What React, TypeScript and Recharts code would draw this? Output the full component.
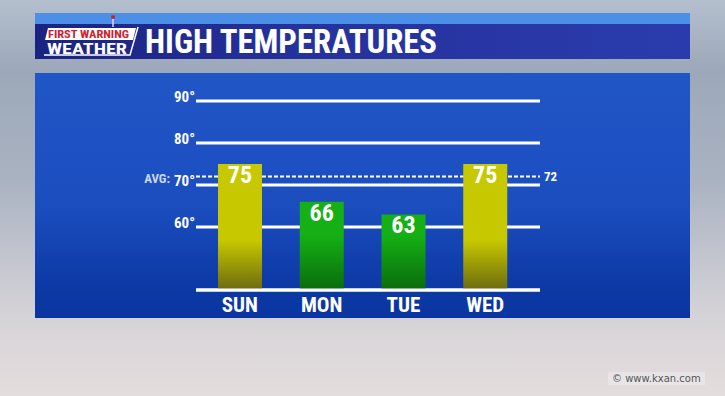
import React from "react"
import { Bar, BarChart, CartesianGrid, Cell, LabelList, ReferenceLine, XAxis, YAxis } from "recharts"

const days = ["SUN", "MON", "TUE", "WED"]
const highs = [75, 66, 63, 75]
const yTicks = [60, 70, 80, 90]
const avgTemp = 72
const yDomain = [45, 90]

const data = days.map((day, i) => ({ day, high: highs[i] }))

const FONT = "'Roboto Condensed', 'DejaVu Sans Condensed', 'Liberation Sans Narrow', Roboto, sans-serif"
const chartMargin = { top: 101, right: 185, bottom: 76, left: 136 }

const YTick = (props: any) => {
  const { x, y, payload } = props
  return (
    <g>
      {payload.value === 70 && (
        <text x={x - 25} y={y - 2} textAnchor="end" fill="#c9d6f2" fontSize={13} fontWeight="bold" fontFamily={FONT}>
          AVG:
        </text>
      )}
      <text x={x} y={y + 1} textAnchor="end" fill="#fff" fontSize={15} fontWeight="bold" fontFamily={FONT}>
        {payload.value}°
      </text>
    </g>
  )
}

const XTick = (props: any) => {
  const { x, y, payload } = props
  return (
    <text x={x} y={y + 22} textAnchor="middle" fill="#fff" fontSize={21} fontWeight="bold" fontFamily={FONT}>
      {payload.value}
    </text>
  )
}

// shared axes so both layers use the same scales
const axes = (front: boolean) => [
  <XAxis
    key="x"
    dataKey="day"
    height={30}
    axisLine={front ? { stroke: "#ffffff", strokeWidth: 3 } : false}
    tickLine={false}
    tickSize={0}
    tickMargin={0}
    padding={{ left: 3, right: 14 }}
    tick={front ? <XTick /> : false}
  />,
  <YAxis
    key="y"
    domain={yDomain}
    ticks={yTicks}
    interval={0}
    width={60}
    axisLine={false}
    tickLine={false}
    tickSize={0}
    tickMargin={1}
    tick={front ? false : <YTick />}
  />,
]

export default function App() {
  return (
    <div
      style={{
        position: "fixed",
        left: 0,
        top: 0,
        width: 725,
        height: 396,
        overflow: "hidden",
        background: "linear-gradient(180deg, #b4bfce 0%, #9ca8b9 18%, #a9b2c1 45%, #d6d3d8 80%, #e4dddd 100%)",
      }}
    >
      <svg width={0} height={0} style={{ position: "absolute" }}>
        <defs>
          <linearGradient id="yellowBar" gradientUnits="userSpaceOnUse" x1="0" y1="240" x2="0" y2="290">
            <stop offset="0%" stopColor="#c8c800" />
            <stop offset="100%" stopColor="#6c6a10" />
          </linearGradient>
          <linearGradient id="greenBar" gradientUnits="userSpaceOnUse" x1="0" y1="235" x2="0" y2="290">
            <stop offset="0%" stopColor="#15b015" />
            <stop offset="100%" stopColor="#0a6c0c" />
          </linearGradient>
        </defs>
      </svg>

      {/* header */}
      <div style={{ position: "absolute", left: 35, top: 13, width: 655, height: 11, background: "#4b8fe6" }} />
      <div
        style={{
          position: "absolute",
          left: 35,
          top: 24,
          width: 655,
          height: 35,
          background: "linear-gradient(90deg, #1b2380 0%, #25319c 40%, #2a3cad 100%)",
        }}
      />
      <svg width={725} height={70} style={{ position: "absolute", left: 0, top: 0 }}>
        <polygon points="48,28 136,28 133,40 45,40" fill="#ffffff" />
        <polyline points="44,55 130,55 138,27" fill="none" stroke="#ffffff" strokeWidth={1.5} />
        <line x1="113" y1="15" x2="113" y2="27" stroke="#d8d8e8" strokeWidth={1.5} />
        <circle cx="113" cy="17" r="2" fill="#d02030" />
        <text x={48} y={38} textLength={81} lengthAdjust="spacingAndGlyphs" fill="#d0202e" fontSize={11} fontWeight="bold" fontFamily={FONT}>
          FIRST WARNING
        </text>
        <text x={47} y={54} textLength={80} lengthAdjust="spacingAndGlyphs" fill="#ffffff" fontSize={14} fontWeight="bold" fontFamily={FONT}>
          WEATHER
        </text>
        <text x={145} y={53} textLength={292} lengthAdjust="spacingAndGlyphs" fill="#ffffff" fontSize={34} fontWeight="bold" fontFamily={FONT}>
          HIGH TEMPERATURES
        </text>
      </svg>

      {/* blue panel */}
      <div
        style={{
          position: "absolute",
          left: 35,
          top: 73,
          width: 655,
          height: 245,
          background: "linear-gradient(180deg, #2156c7 0%, #1b4dbf 55%, #0d3aa6 85%, #0a35a0 100%)",
        }}
      />

      {/* back layer: grid, degree labels and the average line (drawn behind the bars) */}
      <div style={{ position: "absolute", left: 0, top: 0 }}>
        <BarChart width={725} height={396} data={data} margin={chartMargin}>
          <CartesianGrid vertical={false} stroke="#ffffff" strokeWidth={3} />
          {axes(false)}
          <Bar dataKey="high" barSize={44} fill="transparent" isAnimationActive={false} />
          <ReferenceLine
            y={avgTemp}
            stroke="#ffffff"
            strokeWidth={2}
            strokeDasharray="4 2"
            label={{ value: String(avgTemp), position: "right", fill: "#ffffff", fontSize: 13, fontWeight: "bold", fontFamily: FONT, offset: 4 }}
          />
        </BarChart>
      </div>

      {/* front layer: bars, values, day labels and baseline */}
      <div style={{ position: "absolute", left: 0, top: 0 }}>
        <BarChart width={725} height={396} data={data} margin={chartMargin}>
          {axes(true)}
          <Bar dataKey="high" barSize={44} isAnimationActive={false}>
            {data.map((d) => (
              <Cell key={d.day} fill={d.high > avgTemp ? "url(#yellowBar)" : "url(#greenBar)"} />
            ))}
            <LabelList
              dataKey="high"
              position="insideTop"
              offset={2}
              fill="#ffffff"
              fontSize={24}
              fontWeight="bold"
              fontFamily={FONT}
            />
          </Bar>
        </BarChart>
      </div>

      {/* watermark */}
      <div
        style={{
          position: "absolute",
          left: 608,
          top: 372,
          padding: "1px 4px",
          background: "rgba(235,235,238,0.6)",
          color: "#555",
          fontSize: 10,
          fontFamily: "'DejaVu Sans', sans-serif",
        }}
      >
        © www.kxan.com
      </div>
    </div>
  )
}
